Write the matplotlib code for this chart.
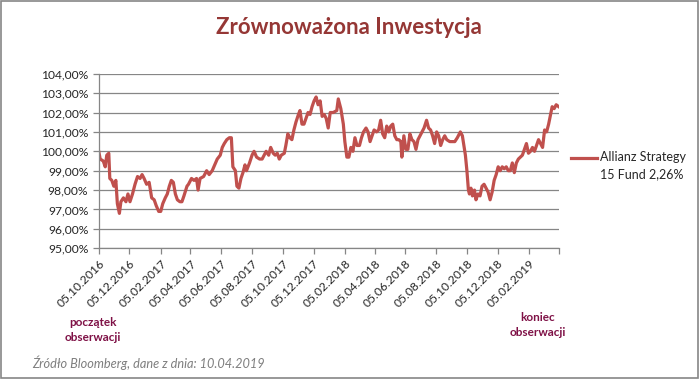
import numpy as np
import pandas as pd
import matplotlib
matplotlib.use("Agg")
import matplotlib.pyplot as plt
from matplotlib.lines import Line2D
from matplotlib.patches import Rectangle

plt.rcParams['font.family'] = ['Lato', 'DejaVu Sans']

# days since 05.10.2016 and fund value (%)
days = [0, 3, 9, 13, 16, 20, 22, 26, 30, 34, 37, 41, 44, 49, 54, 58, 62, 67, 72, 77,
        82, 86, 90, 95, 100, 105, 110, 114, 119, 123, 127, 132, 136, 140, 144, 148, 152, 156, 161, 165,
        169, 175, 178, 184, 189, 194, 197, 201, 208, 214, 219, 225, 230, 235, 241, 245, 249, 254, 259, 263,
        266, 271, 274, 278, 282, 286, 290, 293, 299, 304, 308, 313, 319, 324, 328, 332, 337, 341, 346, 350,
        354, 358, 362, 368, 371, 375, 379, 383, 387, 391, 396, 399, 403, 407, 411, 415, 419, 423, 427, 431,
        435, 439, 443, 447, 451, 455, 459, 465, 472, 475, 480, 485, 488, 492, 496, 500, 504, 508, 512, 517,
        521, 525, 530, 534, 538, 542, 546, 551, 555, 559, 563, 567, 571, 575, 579, 583, 587, 591, 595, 599,
        601, 605, 609, 613, 617, 621, 625, 629, 633, 637, 641, 645, 650, 654, 658, 662, 666, 670, 674, 678,
        682, 686, 690, 696, 701, 706, 711, 717, 721, 724, 727, 730, 733, 735, 738, 741, 745, 748, 752, 756,
        760, 764, 768, 772, 776, 780, 784, 788, 792, 796, 800, 804, 808, 812, 816, 820, 824, 828, 832, 836,
        840, 844, 848, 852, 856, 860, 864, 868, 872, 876, 880, 884, 888, 892, 896, 899, 903, 907, 912]
values = [100.0, 99.6, 99.5, 99.2, 99.8, 99.9, 98.6, 98.5, 98.2, 98.5, 97.3, 96.8, 97.4, 97.6, 97.4, 97.8, 97.4, 97.8, 98.3, 98.7,
          98.6, 98.8, 98.6, 98.3, 98.4, 97.6, 97.5, 97.2, 96.9, 96.9, 97.3, 97.6, 97.8, 98.2, 98.5, 98.4, 97.8, 97.5, 97.4, 97.4,
          97.7, 98.2, 98.3, 98.6, 98.5, 98.6, 98.0, 98.6, 98.7, 99.0, 98.8, 99.0, 99.3, 99.6, 99.8, 100.2, 100.4, 100.6, 100.7, 100.7,
          99.2, 99.0, 98.2, 98.1, 98.6, 98.9, 99.3, 99.0, 99.4, 99.8, 100.0, 99.7, 99.6, 99.6, 99.8, 100.0, 99.8, 100.2, 99.9, 99.8,
          99.9, 99.6, 99.8, 99.9, 100.3, 100.9, 100.7, 100.6, 101.1, 101.5, 101.9, 102.1, 101.4, 101.4, 101.7, 102.0, 101.9, 102.3, 102.6, 102.8,
          102.4, 102.6, 101.8, 101.9, 101.7, 101.2, 102.0, 102.0, 102.1, 102.7, 102.2, 101.4, 100.5, 99.7, 99.7, 100.2, 100.0, 100.7, 100.3, 100.3,
          100.7, 101.0, 101.2, 101.0, 100.5, 100.8, 101.1, 101.0, 101.1, 101.6, 100.9, 100.7, 101.3, 101.0, 101.3, 101.4, 100.8, 100.6, 100.6, 100.5,
          99.7, 100.8, 100.1, 100.1, 100.9, 100.6, 100.5, 100.1, 100.6, 100.8, 101.0, 101.2, 101.6, 101.2, 101.1, 100.8, 100.4, 101.0, 100.8, 100.3,
          100.6, 100.8, 100.6, 100.5, 100.5, 100.5, 100.7, 101.0, 100.8, 100.3, 99.8, 99.0, 98.0, 97.8, 98.1, 97.7, 98.0, 97.5, 97.8, 97.7,
          98.2, 98.3, 98.1, 97.9, 97.5, 97.9, 98.5, 98.8, 99.2, 99.0, 99.2, 99.1, 99.2, 99.0, 99.0, 99.4, 98.9, 99.4, 99.6, 99.7,
          99.8, 100.1, 100.4, 99.9, 100.0, 100.2, 100.0, 100.3, 100.6, 100.4, 100.2, 101.1, 101.0, 101.4, 101.9, 102.3, 102.2, 102.4, 102.3]

start = pd.Timestamp("2016-10-05")
dates = start + pd.to_timedelta(days, unit="D")

tick_dates = pd.date_range("2016-10-01", "2019-04-01", freq="2MS") + pd.Timedelta(days=4)
tick_labels = [d.strftime("%d.%m.%Y") for d in tick_dates[:-1]] + [""]

series_label = "Allianz Strategy\n15 Fund 2,26%"

fig = plt.figure(figsize=(6.99, 3.79), dpi=100)
ax = fig.add_axes([0.1412, 0.3449, 0.6581, 0.4606])

ax.plot(dates, values, color="#C0504D", linewidth=2.3, solid_joinstyle="round")

ax.set_ylim(95, 104)
ax.set_yticks(np.arange(95, 104.5, 1))
ax.set_yticklabels([f"{v:.2f}%".replace(".", ",") for v in np.arange(95, 104.5, 1)])
ax.set_xlim(tick_dates[0], tick_dates[-1])
ax.set_xticks(tick_dates)
ax.set_xticklabels(tick_labels, rotation=45, ha="right", rotation_mode="anchor")

ax.grid(axis="y", color="#868686", linewidth=0.9)
ax.set_axisbelow(True)
for s in ["top", "right"]:
    ax.spines[s].set_visible(False)
for s in ["left", "bottom"]:
    ax.spines[s].set_color("#868686")
    ax.spines[s].set_linewidth(0.9)
ax.tick_params(axis="both", colors="#868686", length=4, width=0.9, labelsize=8.7, labelcolor="#262626")
ax.tick_params(axis="x", pad=3)

fig.text(0.499, 0.928, "Zrównoważona Inwestycja", ha="center", va="center",
         fontsize=16, fontweight="bold", color="#953735")

# legend
fig.add_artist(Line2D([570.5 / 699, 596.5 / 699], [1 - 158.3 / 379] * 2,
                      color="#C0504D", linewidth=2.3))
fig.text(600 / 699, 1 - 166 / 379, series_label, ha="left", va="center",
         fontsize=9, color="#262626", linespacing=1.5)

fig.text(92.5 / 699, 1 - 330 / 379, "początek\nobserwacji", ha="center", va="center",
         fontsize=8.5, fontweight="bold", color="#7F1146", linespacing=1.4)
fig.text(538 / 699, 1 - 325 / 379, "koniec\nobserwacji", ha="center", va="center",
         fontsize=8.5, fontweight="bold", color="#7F1146", linespacing=1.4)
fig.text(32 / 699, 1 - 363 / 379, "Źródło Bloomberg, dane z dnia: 10.04.2019", ha="left", va="center",
         fontsize=9.2, style="italic", color="#7F7F7F")

fig.add_artist(Rectangle((0.001, 0.002), 0.997, 0.995, transform=fig.transFigure,
                         fill=False, edgecolor="#868686", linewidth=1.2))

fig.savefig("out.png", dpi=100)
